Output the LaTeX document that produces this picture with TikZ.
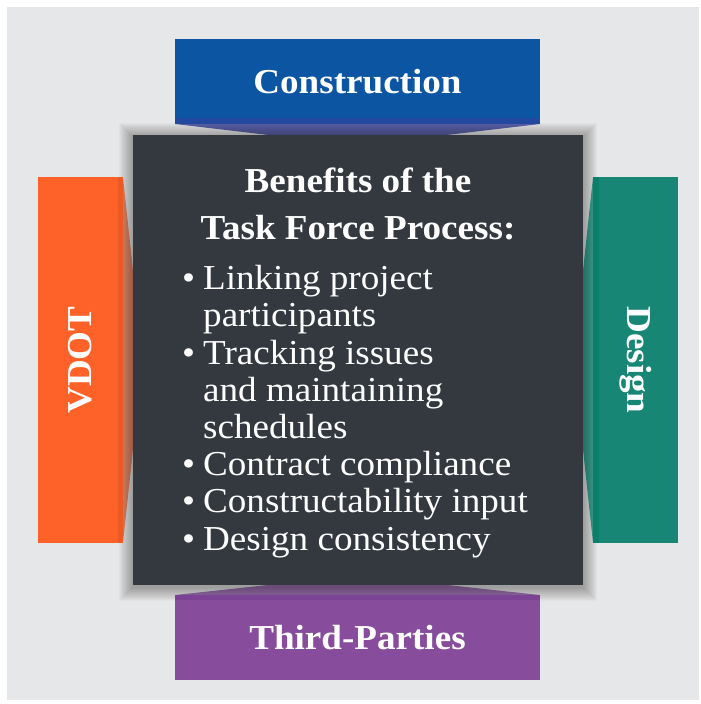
\documentclass[tikz,border=0pt]{standalone}
\usepackage{fontspec}
\setmainfont[FakeStretch=1.06]{Liberation Serif}
\usepackage{xcolor}
\usetikzlibrary{positioning}

\definecolor{bggray}{HTML}{E6E7E8}
\definecolor{boxdark}{HTML}{33393F}
\definecolor{conblue}{HTML}{0B55A3}
\definecolor{constrip}{HTML}{2348A0}
\definecolor{conflap}{HTML}{5A62A8}
\definecolor{vdotorange}{HTML}{FE6229}
\definecolor{vdotstrip}{HTML}{EC5A24}
\definecolor{vdotflap}{HTML}{E4896A}
\definecolor{desteal}{HTML}{178674}
\definecolor{desstrip}{HTML}{0B7F6C}
\definecolor{desflap}{HTML}{3FA393}
\definecolor{tppurple}{HTML}{874C9C}
\definecolor{tpstrip}{HTML}{7C4294}
\definecolor{tpflap}{HTML}{9C72AE}

\begin{document}
\begin{tikzpicture}[x=1pt, y=-1pt,
        sidebox/.style={inner sep=0pt, text=white, font=\fontsize{35}{40}\selectfont\bfseries},
        bodytext/.style={inner sep=0pt, text=white}]
    \useasboundingbox (0,0) rectangle (701,704);
    \fill[bggray] (7,7) rectangle (699,700);

    % flaps behind the centre box
    \fill[conflap]  (175,124) -- (540,124) -- (438,136) -- (277,136) -- cycle;
    \fill[vdotflap] (123,177) -- (134,280) -- (134,440) -- (123,543) -- cycle;
    \fill[desflap]  (593,177) -- (582,280) -- (582,440) -- (593,543) -- cycle;
    \fill[tpflap]   (175,595) -- (277,584) -- (438,584) -- (540,595) -- cycle;

    % soft shadow round the centre box
    \foreach \g in {1,...,14}
        \fill[black, opacity=0.022] (133-\g,135-\g+2) rectangle (583+\g,585+\g+2);

    % the four parties
    \node[sidebox, fill=conblue, minimum width=365pt, minimum height=85pt]                (construction) at (357.5,81.5)  {Construction};
    \node[sidebox, fill=vdotorange, rotate=90, minimum width=366pt, minimum height=85pt]  (vdot)         at (80.5,360)    {VDOT};
    \node[sidebox, fill=desteal, rotate=-90, minimum width=366pt, minimum height=85pt]    (design)       at (635.5,360)   {Design};
    \node[sidebox, fill=tppurple, minimum width=365pt, minimum height=85pt]               (thirdparties) at (357.5,637.5) {Third-Parties};

    \fill[constrip]  (175,118) rectangle (540,124);
    \fill[vdotstrip] (118,177) rectangle (123,543);
    \fill[desstrip]  (593,177) rectangle (599,543);
    \fill[tpstrip]   (175,595) rectangle (540,600);

    % centre box
    \node[fill=boxdark, minimum width=450pt, minimum height=450pt] (benefits) at (358,360) {};
    \node[bodytext, align=center, anchor=base, font=\fontsize{35}{47}\selectfont\bfseries]
          (heading) at (358,239) {Benefits of the\\Task Force Process:};
    \node[bodytext, align=left, anchor=base west, font=\fontsize{35}{37.2}\selectfont]
          (benefitlist) at (182,550) {%
            \makebox[21pt][l]{\textbullet}Linking project\\
            \hspace*{21pt}participants\\
            \makebox[21pt][l]{\textbullet}Tracking issues\\
            \hspace*{21pt}and maintaining\\
            \hspace*{21pt}schedules\\
            \makebox[21pt][l]{\textbullet}Contract compliance\\
            \makebox[21pt][l]{\textbullet}Constructability input\\
            \makebox[21pt][l]{\textbullet}Design consistency};
\end{tikzpicture}
\end{document}
